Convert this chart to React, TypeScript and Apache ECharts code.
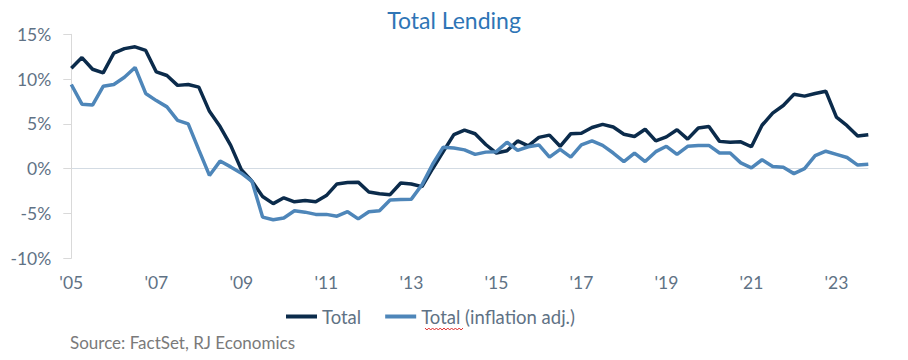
import React, { useEffect, useRef } from "react";
import * as echarts from "echarts";

const years: number[] = [2005, 2006, 2007, 2008, 2009, 2010, 2011, 2012, 2013, 2014, 2015, 2016, 2017, 2018, 2019, 2020, 2021, 2022, 2023];
const quarterNames: string[] = ["Q1", "Q2", "Q3", "Q4"];
const categories: string[] = years.flatMap((y) => quarterNames.map((q) => `${y}${q}`));

const totalLending: number[] = [
  11.2, 12.4, 11.1, 10.7, 12.9, 13.4, 13.6, 13.2, 10.8, 10.4,
  9.3, 9.4, 9.1, 6.4, 4.7, 2.6, -0.1, -1.4, -3.1, -3.9,
  -3.25, -3.7, -3.55, -3.7, -3.0, -1.7, -1.55, -1.5, -2.6, -2.8,
  -2.9, -1.6, -1.7, -2.0, 0.0, 1.9, 3.8, 4.3, 3.9, 2.7,
  1.75, 2.0, 3.1, 2.55, 3.5, 3.75, 2.5, 3.9, 3.95, 4.6,
  4.95, 4.65, 3.85, 3.6, 4.4, 3.1, 3.55, 4.35, 3.3, 4.55,
  4.7, 3.05, 2.95, 3.0, 2.45, 4.85, 6.2, 7.05, 8.3, 8.1,
  8.4, 8.65, 5.75, 4.8, 3.65, 3.8,
];

const totalInflationAdj: number[] = [
  9.4, 7.2, 7.1, 9.2, 9.4, 10.2, 11.3, 8.4, 7.6, 6.9,
  5.4, 5.0, 2.1, -0.75, 0.85, 0.2, -0.5, -1.4, -5.4, -5.7,
  -5.5, -4.7, -4.85, -5.1, -5.1, -5.3, -4.8, -5.6, -4.8, -4.7,
  -3.5, -3.45, -3.4, -1.8, 0.5, 2.4, 2.3, 2.1, 1.6, 1.85,
  1.9, 2.95, 2.05, 2.45, 2.65, 1.3, 2.15, 1.3, 2.65, 3.1,
  2.6, 1.75, 0.8, 1.75, 0.8, 1.9, 2.5, 1.6, 2.5, 2.6,
  2.6, 1.75, 1.75, 0.65, 0.1, 1.0, 0.25, 0.15, -0.55, 0.0,
  1.45, 1.95, 1.6, 1.25, 0.4, 0.5,
];

const seriesNames: string[] = ["Total", "Total (inflation adj.)"];
const yTicks = { min: -10, max: 15, interval: 5 };

const FONT = "Lato, 'Open Sans', sans-serif";
const AXIS_TEXT = "#5f7285";

// red spell-check squiggle under the second legend entry's first word
const squiggle: number[][] = [];
for (let i = 0; i <= 20; i++) squiggle.push([425 + i * 1.9, i % 2 === 0 ? 328 : 330]);

export default function App() {
  const ref = useRef<HTMLDivElement>(null);

  useEffect(() => {
    if (!ref.current) return;
    const chart = echarts.init(ref.current, undefined, { renderer: "svg" });
    chart.setOption({
      animation: false,
      backgroundColor: "#ffffff",
      textStyle: { fontFamily: FONT },
      title: {
        text: "Total Lending",
        left: "center",
        top: 3,
        textStyle: { color: "#2e75b6", fontSize: 23, fontWeight: "normal", fontFamily: FONT },
      },
      grid: { left: 71.3, right: 39.7, top: 34.3, bottom: 101.7, containLabel: false },
      legend: {
        data: seriesNames,
        left: 281,
        top: 302,
        icon: "rect",
        itemWidth: 31,
        itemHeight: 4,
        itemGap: 24,
        textStyle: { color: AXIS_TEXT, fontSize: 18.5, fontFamily: FONT },
      },
      xAxis: {
        type: "category",
        data: categories,
        boundaryGap: false,
        axisLine: { show: false },
        axisTick: { show: false },
        splitLine: { show: false },
        axisLabel: {
          interval: (index: number) => index % 8 === 0,
          formatter: (v: string) => "'" + v.slice(2, 4),
          color: AXIS_TEXT,
          fontSize: 17.5,
          margin: 15,
          fontFamily: FONT,
        },
      },
      yAxis: {
        type: "value",
        min: yTicks.min,
        max: yTicks.max,
        interval: yTicks.interval,
        axisLine: { show: true, lineStyle: { color: "#d9d9d9", width: 1 } },
        axisTick: { show: true, inside: false, length: 8, lineStyle: { color: "#d9d9d9" } },
        splitLine: {
          show: true,
          lineStyle: {
            color: ["rgba(0,0,0,0)", "rgba(0,0,0,0)", "#d3dbe3", "rgba(0,0,0,0)", "rgba(0,0,0,0)", "rgba(0,0,0,0)"],
            width: 1,
          },
        },
        axisLabel: {
          formatter: "{value}%",
          color: AXIS_TEXT,
          fontSize: 17.5,
          margin: 20,
          fontFamily: FONT,
        },
      },
      series: [
        {
          name: seriesNames[0],
          type: "line",
          data: totalLending,
          showSymbol: false,
          symbol: "none",
          lineStyle: { color: "#0b2b4b", width: 3.5 },
          itemStyle: { color: "#0b2b4b" },
        },
        {
          name: seriesNames[1],
          type: "line",
          data: totalInflationAdj,
          showSymbol: false,
          symbol: "none",
          lineStyle: { color: "#4e86b9", width: 3.5 },
          itemStyle: { color: "#4e86b9" },
        },
      ],
      graphic: [
        {
          type: "text",
          left: 70,
          top: 334,
          style: { text: "Source: FactSet, RJ Economics", fill: "#7a7a7a", fontSize: 17, fontFamily: FONT },
        },
        {
          type: "polyline",
          shape: { points: squiggle },
          style: { stroke: "#e03030", lineWidth: 1, fill: null },
          silent: true,
        },
      ],
    });
    return () => chart.dispose();
  }, []);

  return (
    <div
      ref={ref}
      style={{ position: "fixed", left: 0, top: 0, width: 908, height: 360, background: "#fff" }}
    />
  );
}
